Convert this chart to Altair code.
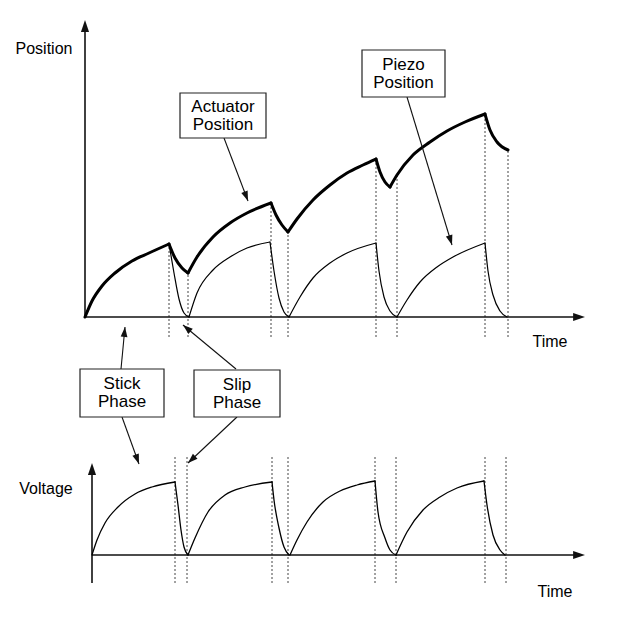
import math
import altair as alt
import pandas as pd

# ---------------- data (time units, level units) ----------------
# Actuator position (thick curve), one list per rise / slip segment: (time, position)
actuator_segments = [
    [(0, 0), (7, 16), (17, 31), (30, 44), (47, 56), (64, 64), (84, 73)],
    [(84, 73), (90, 59), (97, 49), (103, 44)],
    [(103, 44), (112, 60), (128, 80), (145, 94), (162, 104), (186, 114)],
    [(186, 114), (191, 102), (197, 92), (203, 85)],
    [(203, 85), (212, 98), (228, 117), (245, 132), (262, 144), (278, 152), (291, 158)],
    [(291, 158), (295, 145), (300, 135), (305, 130)],
    [(305, 130), (312, 142), (328, 162), (345, 175), (362, 186), (380, 195), (400, 203)],
    [(400, 203), (405, 187), (412, 175), (423, 167)],
]
# Piezo position (thin curve)
piezo_segments = [
    [(0, 0), (7, 16), (17, 31), (30, 44), (47, 56), (64, 64), (84, 73)],
    [(84, 73), (89, 44), (94, 18), (99, 4), (104, 0)],
    [(104, 0), (112, 24), (128, 47), (145, 60), (162, 69), (185, 75)],
    [(185, 75), (189, 46), (194, 19), (199, 5), (204, 0)],
    [(204, 0), (215, 20), (228, 39), (245, 54), (262, 64), (291, 74)],
    [(291, 74), (294, 46), (299, 20), (305, 6), (312, 0)],
    [(312, 0), (322, 17), (335, 35), (352, 50), (368, 60), (400, 74)],
    [(400, 74), (403, 46), (408, 22), (415, 6), (422, 0)],
]
# Drive voltage (lower panel)
voltage_segments = [
    [(7, 0), (12, 15), (20, 32), (33, 48), (50, 61), (67, 68), (90, 73)],
    [(90, 73), (93, 50), (96, 25), (99, 8), (103, 0)],
    [(103, 0), (110, 17), (123, 43), (140, 60), (160, 68), (187, 73)],
    [(187, 73), (189, 55), (194, 27), (199, 8), (204, 0)],
    [(205, 0), (212, 15), (222, 33), (238, 53), (255, 64), (272, 70), (290, 74)],
    [(290, 74), (293, 43), (300, 17), (305, 5), (311, 0)],
    [(311, 0), (322, 23), (338, 45), (355, 58), (372, 67), (399, 74)],
    [(399, 74), (402, 50), (408, 20), (415, 5), (420, 0)],
]
# phase boundaries (dotted guides): time and top of the guide in the position panel
top_guide_times = [84, 103, 186, 203, 291, 312, 400, 423]
top_guide_tops = [73, 44, 114, 85, 158, 142, 203, 167]
bottom_guide_times = [90, 102, 187, 203, 290, 311, 400, 421]

# labels
axis_labels = ["Position", "Time", "Voltage", "Time"]
box_labels = [["Actuator", "Position"], ["Piezo", "Position"], ["Stick", "Phase"], ["Slip", "Phase"]]

# ---------------- layout (diagram frame) ----------------
X_DOMAIN = [-77, 527]
Y_DOMAIN = [-296, 309]
BOTTOM_OFFSET = -238          # lower panel baseline in the shared frame
TOP_AXIS_END = (500, 297)     # x-axis tip time, y-axis tip level
BOTTOM_AXIS = dict(t0=7, ybot=-28, ytip=92, tend=500)

box_frames = [(95, 181, 179, 224), (277, 360, 220, 267), (-5, 79, -100, -52), (109, 195, -100, -53)]
arrow_lines = [
    (139, 179, 163, 116),
    (322, 220, 367, 72),
    (36, -52, 40, -10),
    (151, -52, 98, -8),
    (37, -100, 54, -147),
    (152, -100, 103, -146),
]
axis_label_pos = [(-41, 268), (465, -25), (-39, -172), (470, -275)]

# ---------------- build tables ----------------
def seg_rows(segs, name, offset=0):
    rows = []
    for i, seg in enumerate(segs):
        for j, (t, v) in enumerate(seg):
            rows.append(dict(t=t, y=v + offset, seg=f"{name}{i}", order=j))
    return pd.DataFrame(rows)

act_df = seg_rows(actuator_segments, "a")
pz_df = seg_rows(piezo_segments, "p")
volt_df = seg_rows(voltage_segments, "v", BOTTOM_OFFSET)

guides = pd.DataFrame(
    [dict(t=t, y=-20, y2=top) for t, top in zip(top_guide_times, top_guide_tops)]
    + [dict(t=t, y=BOTTOM_OFFSET - 28, y2=BOTTOM_OFFSET + 100) for t in bottom_guide_times]
)

ax_t, ax_p = TOP_AXIS_END
b = BOTTOM_AXIS
axes_df = pd.DataFrame([
    dict(t=0, t2=0, y=0, y2=ax_p - 4),
    dict(t=0, t2=ax_t - 4, y=0, y2=0),
    dict(t=b["t0"], t2=b["t0"], y=BOTTOM_OFFSET + b["ybot"], y2=BOTTOM_OFFSET + b["ytip"] - 4),
    dict(t=b["t0"], t2=b["tend"] - 4, y=BOTTOM_OFFSET, y2=BOTTOM_OFFSET),
])
axis_heads = pd.DataFrame([
    dict(t=0, y=ax_p, angle=0),
    dict(t=ax_t, y=0, angle=90),
    dict(t=b["t0"], y=BOTTOM_OFFSET + b["ytip"], angle=0),
    dict(t=b["tend"], y=BOTTOM_OFFSET, angle=90),
])

arrows_df = pd.DataFrame([dict(t=a, y=c, t2=d, y2=e) for a, c, d, e in arrow_lines])
arrow_heads = pd.DataFrame([
    dict(t=d, y=e, angle=math.degrees(math.atan2(d - a, e - c)) % 360)
    for a, c, d, e in arrow_lines
])

boxes_df = pd.DataFrame([dict(t=a, t2=c, y=d, y2=e) for a, c, d, e in box_frames])
box_text = []
for (t0, t1, p0, p1), lines in zip(box_frames, box_labels):
    tc = (t0 + t1) / 2
    pc = (p0 + p1) / 2
    box_text.append(dict(t=tc, y=pc + 9, label=lines[0]))
    box_text.append(dict(t=tc, y=pc - 9, label=lines[1]))
box_text_df = pd.DataFrame(box_text)
axis_text_df = pd.DataFrame([dict(t=t, y=y, label=l) for (t, y), l in zip(axis_label_pos, axis_labels)])

# ---------------- chart ----------------
X = lambda f="t": alt.X(f"{f}:Q", scale=alt.Scale(domain=X_DOMAIN, nice=False, zero=False), axis=None)
Y = lambda f="y": alt.Y(f"{f}:Q", scale=alt.Scale(domain=Y_DOMAIN, nice=False, zero=False), axis=None)

guide_layer = alt.Chart(guides).mark_rule(color="#444", strokeWidth=1, strokeDash=[2, 2]).encode(
    x=X(), y=Y(), y2="y2:Q")
axis_layer = alt.Chart(axes_df).mark_rule(color="#111", strokeWidth=1.6).encode(
    x=X(), x2="t2:Q", y=Y(), y2="y2:Q")
head_shape = "M0,0L0.75,2.2L-0.75,2.2Z"
axis_head_layer = alt.Chart(axis_heads).mark_point(
    shape=head_shape, filled=True, size=117, color="#111", opacity=1, strokeWidth=0).encode(
    x=X(), y=Y(), angle=alt.Angle("angle:Q", scale=None))

def curve(df, width):
    return alt.Chart(df).mark_line(interpolate="monotone", color="black", strokeWidth=width,
                                   strokeCap="round", strokeJoin="round").encode(
        x=X(), y=Y(), detail="seg:N", order="order:Q")

pz_layer = curve(pz_df, 1.2)
act_layer = curve(act_df, 3)
volt_layer = curve(volt_df, 1.3)

arrow_layer = alt.Chart(arrows_df).mark_rule(color="#111", strokeWidth=1.1).encode(
    x=X(), x2="t2:Q", y=Y(), y2="y2:Q")
arrow_head_layer = alt.Chart(arrow_heads).mark_point(
    shape=head_shape, filled=True, size=81, color="#111", opacity=1, strokeWidth=0).encode(
    x=X(), y=Y(), angle=alt.Angle("angle:Q", scale=None))

box_layer = alt.Chart(boxes_df).mark_rect(fill="white", stroke="#222", strokeWidth=1.2).encode(
    x=X(), x2="t2:Q", y=Y(), y2="y2:Q")
box_text_layer = alt.Chart(box_text_df).mark_text(
    font="Liberation Sans", fontSize=17, color="black", align="center", baseline="middle").encode(
    x=X(), y=Y(), text="label:N")
axis_text_layer = alt.Chart(axis_text_df).mark_text(
    font="Liberation Sans", fontSize=16, color="black", align="center", baseline="middle").encode(
    x=X(), y=Y(), text="label:N")

chart = alt.layer(
    guide_layer, axis_layer, pz_layer, volt_layer, act_layer,
    arrow_layer, box_layer, box_text_layer, axis_text_layer,
    axis_head_layer, arrow_head_layer,
).properties(
    width=604, height=605, padding=0,
    autosize=alt.AutoSizeParams(type="none"),
    background="white",
).configure_view(stroke=None)

chart.save("out.html", embed_options={"renderer": "svg", "actions": False})
